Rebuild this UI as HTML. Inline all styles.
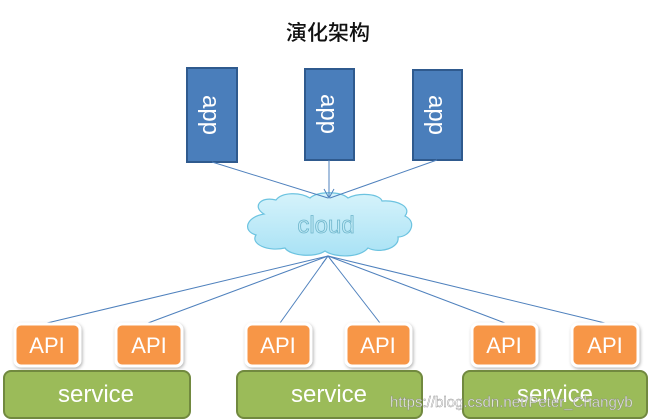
<!DOCTYPE html>
<html><head><meta charset="utf-8"><style>
html,body{margin:0;padding:0;background:#fff;width:656px;height:420px;overflow:hidden}
</style></head><body>
<svg width="656" height="420" viewBox="0 0 656 420" xmlns="http://www.w3.org/2000/svg">
<defs>
<linearGradient id="cg" x1="0" y1="0" x2="0" y2="1"><stop offset="0" stop-color="#d6f3fb"/><stop offset="1" stop-color="#a9e2f5"/></linearGradient>
<filter id="sh" x="-20%" y="-20%" width="140%" height="140%"><feDropShadow dx="1" dy="1.5" stdDeviation="1.5" flood-color="#000" flood-opacity="0.3"/></filter>
</defs>
<text x="328" y="40" text-anchor="middle" font-family="Liberation Sans, Noto Sans CJK SC, sans-serif" font-size="21" font-weight="500" fill="#111">演化架构</text>
<g fill="#4a7ebb" stroke="#2f5a8e" stroke-width="2">
<rect x="187" y="68" width="50" height="94"/>
<rect x="305" y="69" width="49" height="91"/>
<rect x="413" y="70" width="49" height="90"/>
</g>
<g font-family="Liberation Sans, sans-serif" font-size="24" fill="#fff">
<text transform="translate(203,115) rotate(90)" text-anchor="middle">app</text>
<text transform="translate(321,114) rotate(90)" text-anchor="middle">app</text>
<text transform="translate(429,115) rotate(90)" text-anchor="middle">app</text>
</g>
<path d="M264,214 C252,207 260,196 276,200 C282,192 300,192 310,198 C318,191 340,191 348,198 C360,192 380,194 382,201 C398,200 412,207 405,216 C418,222 410,237 398,237 C400,248 380,254 368,248 C360,258 335,258 325,251 C315,258 290,256 285,248 C268,252 250,244 256,235 C242,231 246,217 264,214 Z" fill="url(#cg)" stroke="#6cc3e0" stroke-width="1.2"/>
<g stroke="#4f81bd" stroke-width="1" fill="none">
<line x1="212" y1="162" x2="328" y2="198"/>
<line x1="329" y1="160" x2="329" y2="198"/>
<line x1="437" y1="160" x2="330" y2="198"/>
<line x1="47" y1="323" x2="328" y2="256"/>
<line x1="148" y1="323" x2="328" y2="256"/>
<line x1="280" y1="323" x2="328" y2="256"/>
<line x1="380" y1="323" x2="328" y2="256"/>
<line x1="505" y1="323" x2="328" y2="256"/>
<line x1="605" y1="323" x2="328" y2="256"/>
</g>
<path d="M324,189 l5,9 l5,-9 M322,264 l6,-8 l6,8" stroke="#4f81bd" fill="none"/>
<text x="326" y="233" text-anchor="middle" font-family="Liberation Sans, sans-serif" font-size="24" fill="#bfe9f5" stroke="#6fb6cc" stroke-width="0.8">cloud</text>
<g filter="url(#sh)" fill="#f79646" stroke="#fff" stroke-width="3">
<rect x="15" y="324" width="65" height="42" rx="6"/>
<rect x="116" y="324" width="66" height="42" rx="6"/>
<rect x="246" y="324" width="65" height="42" rx="6"/>
<rect x="346" y="324" width="65" height="42" rx="6"/>
<rect x="472" y="324" width="65" height="42" rx="6"/>
<rect x="572" y="324" width="66" height="42" rx="6"/>
</g>
<g font-family="Liberation Sans, sans-serif" font-size="22" fill="#fff" text-anchor="middle">
<text x="47" y="353">API</text><text x="149" y="353">API</text>
<text x="278" y="353">API</text><text x="378" y="353">API</text>
<text x="504" y="353">API</text><text x="605" y="353">API</text>
</g>
<g fill="#9bbb59" stroke="#71893f" stroke-width="2">
<rect x="4" y="371" width="186" height="47" rx="7"/>
<rect x="237" y="371" width="185" height="47" rx="7"/>
<rect x="463" y="371" width="184" height="47" rx="7"/>
</g>
<g font-family="Liberation Sans, sans-serif" font-size="24" fill="#fff" text-anchor="middle">
<text x="96" y="402">service</text><text x="329" y="402">service</text><text x="555" y="402">service</text>
</g>
<text x="390" y="407" font-family="Liberation Sans, sans-serif" font-size="15" fill="#fff" fill-opacity="0.8" stroke="#888" stroke-width="0.4">https://blog.csdn.net/Peter_Changyb</text>
</svg>
</body></html>
